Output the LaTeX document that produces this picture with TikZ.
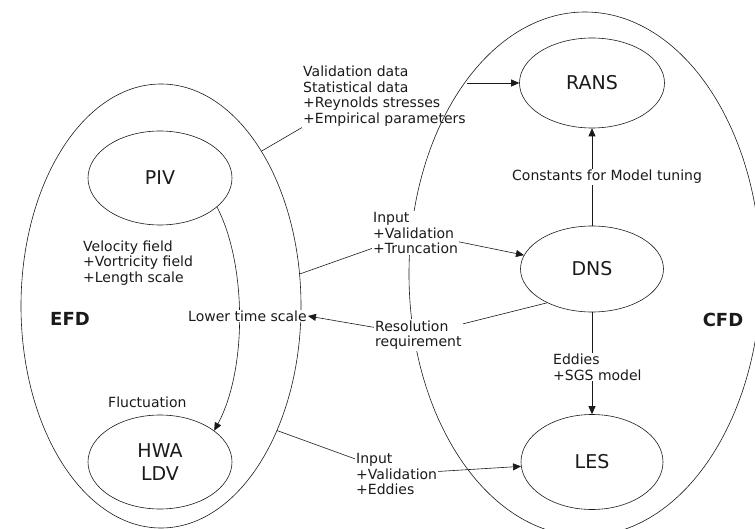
\documentclass[tikz,border=0pt]{standalone}
\usepackage{fontspec}
\setmainfont{DejaVu Sans}
\usepackage{xcolor}
\usetikzlibrary{arrows.meta,shapes.geometric,backgrounds}
\definecolor{ink}{HTML}{1A1A1A}
\tikzset{
  oval/.style={ellipse, draw=ink, line width=0.6pt, inner sep=0pt},
  link/.style={draw=ink, line width=0.6pt},
  flow/.style={link, -{Triangle[length=8pt,width=7pt]}},
  big/.style={font=\fontsize{19}{23}\selectfont, text=ink},
  area/.style={font=\fontsize{18}{20}\selectfont\bfseries, text=ink},
  t/.style={inner sep=1pt, anchor=west, align=left, font=\fontsize{14}{15.7}\selectfont, text=ink},
  tw/.style={t, fill=white},
}
\begin{document}
\begin{tikzpicture}[x=1pt, y=-1pt]
  \useasboundingbox (0,0) rectangle (755,529);

  \node[oval, minimum width=280pt, minimum height=444pt] (efd) at (161,306) {};
  \node[oval, minimum width=352pt, minimum height=524pt] (cfd) at (585,274) {};
  \node[area] (efdlbl) at (70,319) {EFD};
  \node[area] (cfdlbl) at (723,320) {CFD};

  \node[oval, big, minimum width=144pt, minimum height=94pt] (piv) at (160,178) {PIV};
  \node[oval, big, align=center, minimum width=144pt, minimum height=94pt] (hwa) at (160,462) {HWA\\LDV};
  \node[oval, big, minimum width=145pt, minimum height=90pt] (rans) at (592,83) {RANS};
  \node[oval, big, minimum width=143pt, minimum height=86pt] (dns) at (592,269) {DNS};
  \node[oval, big, minimum width=142pt, minimum height=95pt] (les) at (592,462) {LES};

  \node[t] (velo) at (82,263) {Velocity field\\+Vortricity field\\+Length scale};
  \node[t] (fluct) at (107,402) {Fluctuation};
  \node[tw] (lowts) at (187,316) {Lower time scale};
  \node[t] (valid) at (302,96) {Validation data\\Statistical data\\+Reynolds stresses\\+Empirical parameters};
  \node[tw] (consts) at (511,177) {Constants for Model tuning};
  \node[tw] (inpdns) at (372,233) {Input\\+Validation\\+Truncation};
  \node[tw] (resol) at (374,335) {Resolution\\requirement};
  \node[tw] (eddy) at (552,367) {Eddies\\+SGS model};
  \node[tw] (inples) at (355,474) {Input\\+Validation\\+Eddies};

  % connectors sit under the white label boxes
  \begin{scope}[on background layer]
    \draw[link] (efd.57) -- (valid.south west);
    \draw[flow] (valid.east |- rans.west) -- (rans.west);
    \draw[flow] (dns) -- (rans);
    \draw[flow] (efd.13) -- (inpdns.center) -- (dns);
    \draw[flow] (dns.-143) -- (resol.center) -- (lowts.east);
    \draw[flow] (piv.-27) .. controls (247,265) and (247,370) .. (hwa.30);
    \draw[flow] (dns) -- (les);
    \draw[flow] (efd.-47) -- (inples.center) -- (les);
  \end{scope}
\end{tikzpicture}
\end{document}
